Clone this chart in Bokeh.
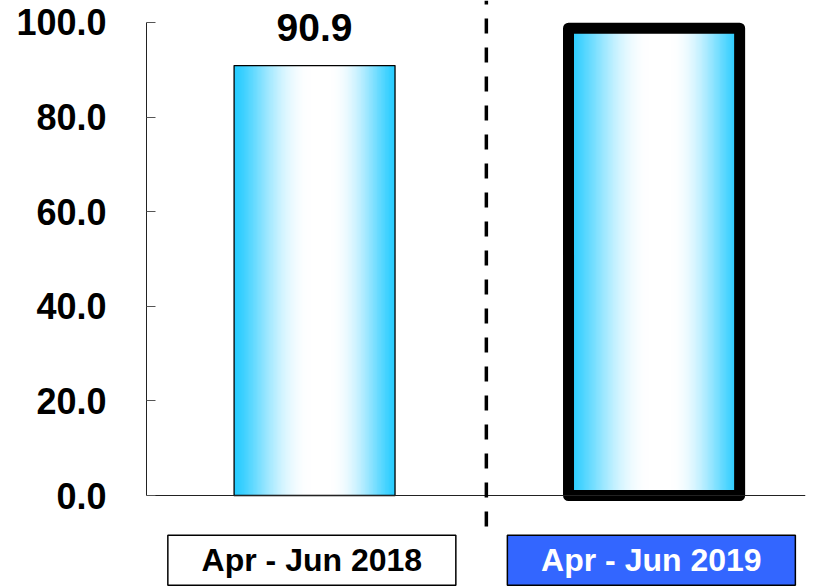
import numpy as np
from bokeh.plotting import figure
from bokeh.models import Range1d, FixedTicker, NumeralTickFormatter, ColumnDataSource
from bokeh.core.properties import value
from bokeh.embed import file_html
from bokeh.resources import INLINE

# ---- data ----
categories = ["Apr - Jun 2018", "Apr - Jun 2019"]
values = [90.9, 98.8]
value_labels = ["90.9", "98.8"]
y_ticks = [0, 20, 40, 60, 80, 100]

# ---- styles ----
bar_widths = [0.474, 0.504]
bar_line_widths = [1.3, 11]
box_fills = ["white", "#3366FF"]
box_text_colors = ["black", "white"]
FONT = "Liberation Sans"

xpos = [i + 0.5 for i in range(len(categories))]

p = figure(width=817, height=587, output_backend="svg", toolbar_location=None,
           x_range=Range1d(0.005, 1.946), y_range=Range1d(-19.45, 104.65),
           x_axis_location=None, min_border_left=146, min_border_right=12,
           min_border_top=0, min_border_bottom=0)
p.outline_line_color = None
p.xgrid.visible = False
p.ygrid.visible = False
p.background_fill_color = "white"
p.border_fill_color = "white"

ax = p.yaxis[0]
ax.ticker = FixedTicker(ticks=y_ticks)
ax.formatter = NumeralTickFormatter(format="0.0")
ax.bounds = (0, 100)
ax.major_tick_in = 9
ax.major_tick_out = 0
ax.minor_tick_line_color = None
ax.axis_line_color = "#222222"
ax.major_tick_line_color = "#555555"
ax.major_label_standoff = 40
ax.major_label_text_font = FONT
ax.major_label_text_font_style = "bold"
ax.major_label_text_font_size = "36px"
ax.major_label_text_color = "black"

# gradient fill for bars (cyan - white - cyan horizontally)
cyan = np.array([38, 204, 255], dtype=float)
white = np.array([255, 255, 255], dtype=float)
N = 200
t = np.linspace(0, 1, N)
stops_t = [0.0, 0.47, 0.6, 1.0]
mix = np.interp(t, stops_t, [0.0, 1.0, 1.0, 0.0])
mix = np.sin(mix * np.pi / 2) ** 1.3
img = np.empty((1, N), dtype=np.uint32)
view = img.view(dtype=np.uint8).reshape((1, N, 4))
for j in range(N):
    c = cyan + (white - cyan) * mix[j]
    view[0, j, 0] = int(c[0]); view[0, j, 1] = int(c[1]); view[0, j, 2] = int(c[2]); view[0, j, 3] = 255

for i in range(len(categories)):
    left = xpos[i] - bar_widths[i] / 2
    p.image_rgba(image=[img], x=left, y=0, dw=bar_widths[i], dh=values[i])

# bar outlines
src = ColumnDataSource(dict(
    left=[xpos[i] - bar_widths[i] / 2 for i in range(len(categories))],
    right=[xpos[i] + bar_widths[i] / 2 for i in range(len(categories))],
    top=values, lw=bar_line_widths))
p.quad(left="left", right="right", bottom=0, top="top", source=src,
       fill_color=None, line_color="black", line_width="lw", line_join="round")

# baseline
p.segment(x0=[p.x_range.start], x1=[p.x_range.end], y0=[0], y1=[0],
          line_color="#222222", line_width=1)

# value labels
for i in range(len(categories)):
    p.text(x=[xpos[i]], y=[values[i]], text=[value_labels[i]],
           y_offset=-(37.5 + bar_line_widths[i] / 2),
           text_align="center", text_baseline="alphabetic",
           text_font=value(FONT), text_font_style="bold", text_font_size="39px",
           text_color="black")

# dashed separator
mid = (xpos[0] + xpos[1]) / 2 + 0.006
p.segment(x0=[mid], x1=[mid], y0=[p.y_range.end], y1=[-7.4],
          line_color="black", line_width=3.5, line_dash="15 14", line_dash_offset=11)

# category label boxes
box_x = [x - 0.008 for x in xpos]
p.rect(x=box_x, y=[-13.7] * 2, width=288, height=50, width_units="screen",
       height_units="screen", fill_color=box_fills, line_color="black", line_width=1.5)
p.text(x=box_x, y=[-13.7] * 2, text=categories, text_align="center", text_baseline="middle",
       text_font=value(FONT), text_font_style="bold", text_font_size="32px",
       text_color=box_text_colors)

open("out.html", "w").write(file_html(p, INLINE))
